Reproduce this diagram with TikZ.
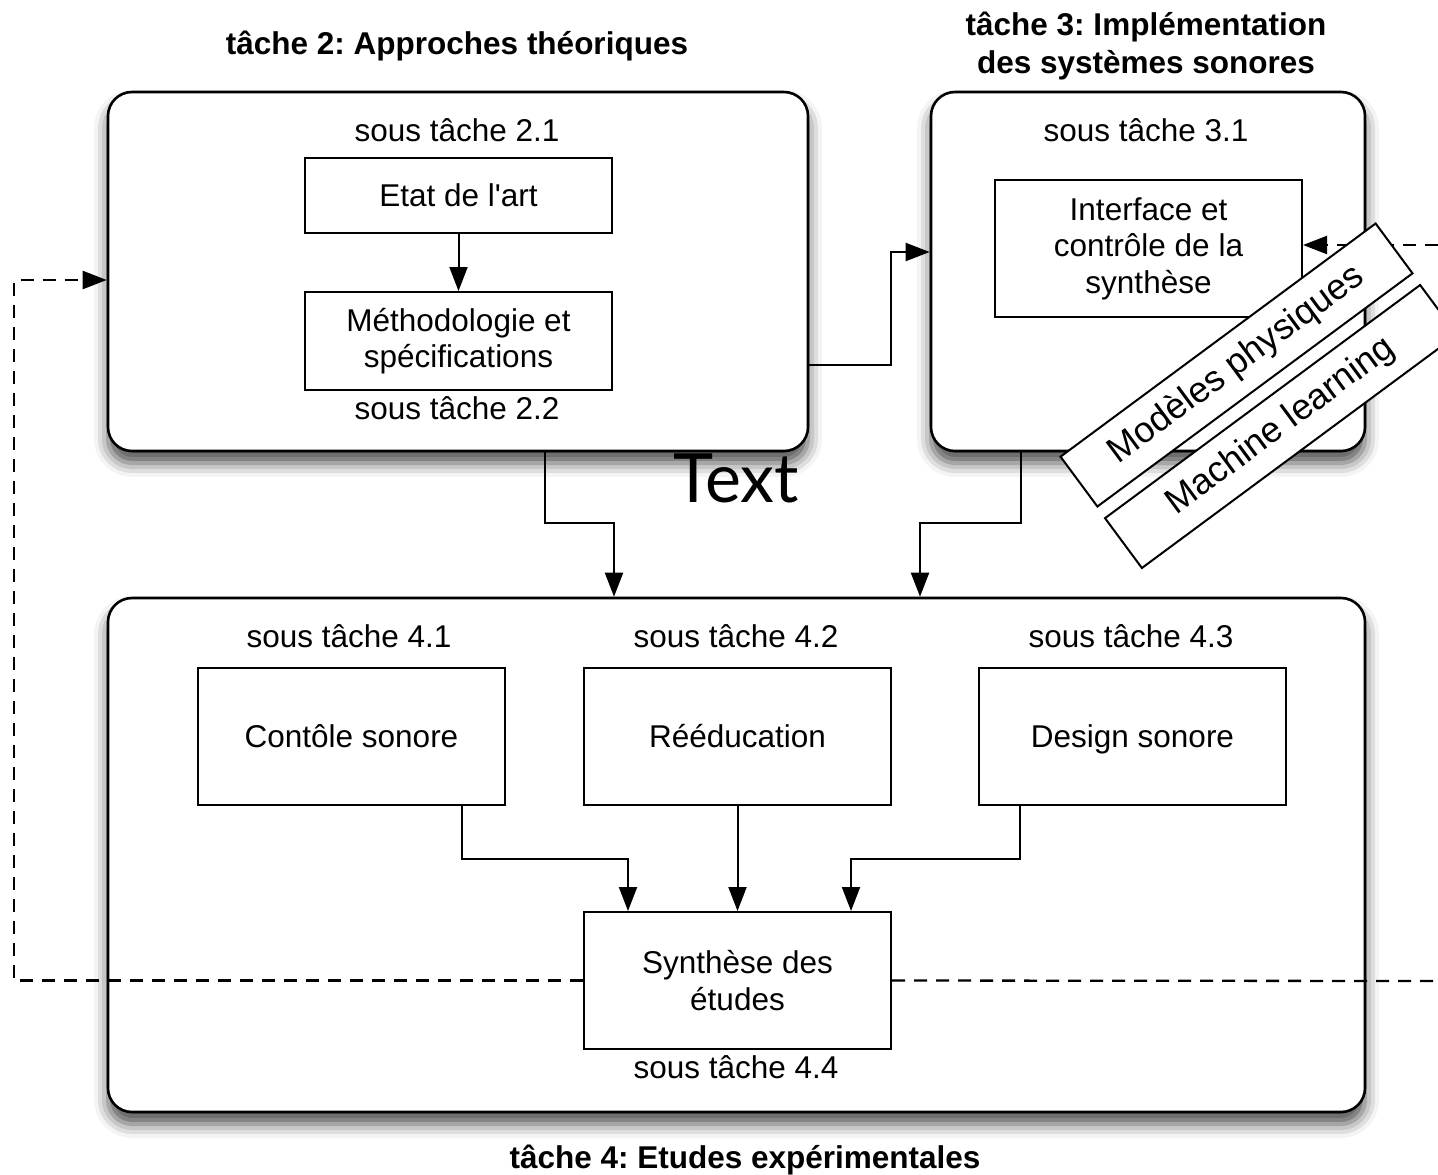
\documentclass[tikz,border=0pt]{standalone}
\usepackage{fontspec}
\setmainfont{Liberation Sans}[Ligatures=TeXOff]
\newfontfamily\bigfont{Lato}
\usetikzlibrary{arrows.meta,shadows.blur,calc}

\tikzset{
  txt/.style={font=\frenchspacing\fontsize{15.75pt}{18.25pt}\selectfont, align=center},
  ttl/.style={font=\frenchspacing\fontsize{15.75pt}{19pt}\selectfont\bfseries, align=center},
  bigbox/.style={draw, line width=1.3pt, rounded corners=12pt, fill=white, inner sep=0pt,
    blur shadow={shadow xshift=0pt, shadow yshift=-6pt, shadow blur radius=7pt, shadow opacity=70}},
  subbox/.style={txt, draw, line width=1pt, fill=white, inner sep=0pt,
    minimum width=153.5pt},
  oneline/.style={text height=11.5pt, text depth=0.5pt},
  tagbox/.style={draw, line width=1pt, fill=white, inner sep=0pt,
    minimum width=196pt, minimum height=31pt, rotate=36.5,
    font=\fontsize{18pt}{20pt}\selectfont},
  arr/.style={line width=1pt, -{Triangle[length=12pt,width=9pt]}},
  dashline/.style={line width=1.15pt, dash pattern=on 6.5pt off 4.5pt},
}

\begin{document}
\begin{tikzpicture}[x=0.5pt, y=-0.5pt]
\useasboundingbox (0,0) rectangle (1438,1174);

% task boxes
\node[bigbox, minimum width=350pt, minimum height=179.5pt] (t2) at (458,271.5) {};
\node[bigbox, minimum width=217pt, minimum height=179.5pt] (t3) at (1148,271.5) {};
\node[bigbox, minimum width=628.5pt, minimum height=257pt] (t4) at (736.5,855) {};

% task titles
\node[ttl] (t2title) at (457,46) {tâche 2: Approches théoriques};
\node[ttl] (t3title) at (1146,46) {tâche 3: Implémentation\\des systèmes sonores};
\node[ttl] (t4title) at (745,1160) {tâche 4: Etudes expérimentales};

% task 2
\node[txt] (l21) at (457,130) {sous tâche 2.1};
\node[subbox, minimum height=37.5pt] (etat) at (458.5,195.5) {Etat de l'art};
\node[subbox, minimum height=49pt] (meth) at (458.5,341) {Méthodologie et\\spécifications};
\node[txt] (l22) at (457,408) {sous tâche 2.2};
\draw[arr] (etat.south) -- (meth.north);

% task 3
\node[txt] (l31) at (1146,130) {sous tâche 3.1};
\node[subbox, minimum height=68.5pt] (iface) at (1148.5,248.5) {Interface et\\contrôle de la\\synthèse};

% task 4
\node[txt] (l41) at (349,636) {sous tâche 4.1};
\node[txt] (l42) at (736,636) {sous tâche 4.2};
\node[txt] (l43) at (1131,636) {sous tâche 4.3};
\node[subbox, oneline, minimum height=68.5pt] (s41) at (351.5,736.5) {Contôle sonore};
\node[subbox, oneline, minimum height=68.5pt] (s42) at (737.5,736.5) {Rééducation};
\node[subbox, oneline, minimum height=68.5pt] (s43) at (1132.5,736.5) {Design sonore};
\node[subbox, minimum height=68.5pt] (syn) at (737.5,980.5) {Synthèse des\\études};
\node[txt] (l44) at (736,1067) {sous tâche 4.4};

\draw[arr] (s41.south -| 462,0) -- ++(0,53) -| (syn.north -| 628,0);
\draw[arr] (s42.south) -- (syn.north);
\draw[arr] (s43.south -| 1020,0) -- ++(0,53) -| (syn.north -| 851,0);

% links between tasks
\draw[arr] (t2.east |- 0,365) -- ++(82,0) |- (t3.west |- 0,252);
\draw[arr] (t2.south -| 545,0) -- ++(0,71) -| (t4.north -| 614,0);
\draw[arr] (t3.south -| 1021,0) -- ++(0,71) -| (t4.north -| 920,0);

% feedback loops
\coordinate (loopL) at (14,280);
\coordinate (edgeR) at (1438,981);
\coordinate (edgeR2) at (1438,245);
\draw[dashline, -{Triangle[length=12pt,width=9pt]}] (syn.west) -| (loopL) -- (t2.west |- loopL);
\draw[dashline] (syn.east) -- (edgeR);
\draw[dashline, -{Triangle[length=12pt,width=9pt]}] (edgeR2) -- (iface.east |- edgeR2);

% tools
\node[tagbox] (mod) at (1236.5,365) {Modèles physiques};
\node[tagbox] (ml) at (1281,426.5) {Machine learning};

% free label
\node[font=\bigfont\fontsize{34pt}{40pt}\selectfont, anchor=base] (free) at (736,502) {Text};
\end{tikzpicture}
\end{document}
